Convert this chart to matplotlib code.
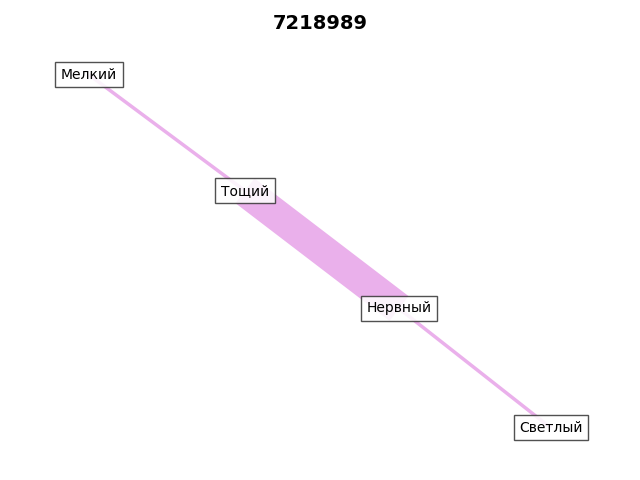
import numpy as np
import matplotlib.pyplot as plt

# nodes and layout positions
nodes = ['Мелкий', 'Тощий', 'Нервный', 'Светлый']
pos_x = [-1.0, -0.335, 0.322, 0.97]
pos_y = [0.98, 0.33, -0.33, -1.0]

# edges with weights
edge_src = ['Мелкий', 'Тощий', 'Нервный']
edge_dst = ['Тощий', 'Нервный', 'Светлый']
edge_w = [1, 9, 1]

title = '7218989'
edge_color = '#eab0eb'

fig = plt.figure(figsize=(6.4, 4.8), dpi=100)
ax = fig.add_axes((0, 0, 1, 1))
ax.set_xlim(-1.38, 1.35)
ax.set_ylim(-1.292, 1.40)
ax.axis('off')

pos = {n: (x, y) for n, x, y in zip(nodes, pos_x, pos_y)}

for s, d, w in zip(edge_src, edge_dst, edge_w):
    (x0, y0), (x1, y1) = pos[s], pos[d]
    ax.plot([x0, x1], [y0, y1], color=edge_color, lw=w * 2.5,
            solid_capstyle='butt', zorder=1)

for n in nodes:
    x, y = pos[n]
    ax.text(x, y, n, ha='center', va='center', fontsize=10, zorder=3,
            bbox=dict(boxstyle='square,pad=0.4', fc='white', ec='#333333',
                      alpha=0.85))

fig.suptitle(title, y=0.952, va='center', fontsize=14, fontweight='bold')

plt.savefig('out.png', dpi=100)
